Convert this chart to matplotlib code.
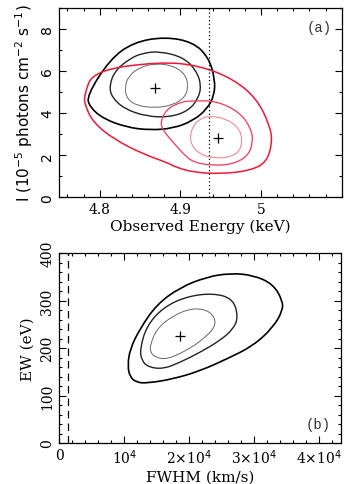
import numpy as np
import matplotlib
matplotlib.use("Agg")
import matplotlib.pyplot as plt
from matplotlib.path import Path
from matplotlib.patches import PathPatch
from matplotlib.ticker import MultipleLocator, FixedLocator, FixedFormatter

# ---------------- data: panel (a) -----------------
# black contours (energy keV, intensity 1e-5 ph/cm2/s)
blk_outer_x = [4.784, 4.788, 4.805, 4.834, 4.862, 4.891, 4.916, 4.933, 4.942, 4.943, 4.935, 4.916, 4.881, 4.842, 4.813]
blk_outer_y = [4.82, 4.27, 3.72, 3.32, 3.19, 3.27, 3.64, 4.19, 4.82, 5.61, 6.64, 7.36, 7.62, 7.36, 6.56]
blk_mid_x = [4.875, 4.904, 4.920, 4.926, 4.922, 4.910, 4.887, 4.858, 4.831, 4.815, 4.812, 4.819, 4.838, 4.854]
blk_mid_y = [6.93, 6.64, 6.01, 5.30, 4.67, 4.11, 3.80, 3.84, 4.19, 4.75, 5.30, 6.01, 6.60, 6.85]
blk_in_x = [4.869, 4.891, 4.906, 4.910, 4.906, 4.891, 4.869, 4.846, 4.834, 4.831, 4.836, 4.850]
blk_in_y = [6.36, 6.25, 5.85, 5.30, 4.75, 4.38, 4.24, 4.35, 4.67, 5.22, 5.77, 6.17]
blk_best = (4.868, 5.17)

# red contours
red_outer_x = [4.7806, 4.792, 4.875, 4.924, 4.966, 4.995, 5.011, 5.014, 5.007, 4.986, 4.949, 4.916, 4.895, 4.883, 4.854, 4.817, 4.792, 4.782]
red_outer_y = [4.82, 6.01, 6.44, 6.25, 5.61, 4.67, 3.40, 2.61, 1.66, 1.26, 1.11, 1.19, 1.42, 1.66, 2.05, 2.77, 3.56, 4.35]
red_mid_x = [4.875, 4.883, 4.900, 4.912, 4.945, 4.974, 4.988, 4.990, 4.984, 4.966, 4.941, 4.916, 4.904, 4.891, 4.879]
red_mid_y = [3.56, 4.19, 4.51, 4.58, 4.58, 4.03, 3.24, 2.61, 1.97, 1.58, 1.50, 1.66, 2.05, 2.61, 3.16]
red_in_x = [4.912, 4.916, 4.924, 4.937, 4.957, 4.972, 4.977, 4.974, 4.962, 4.941, 4.924, 4.914]
red_in_y = [2.92, 3.40, 3.72, 3.87, 3.72, 3.32, 2.77, 2.21, 1.90, 1.85, 2.05, 2.45]
red_best = (4.947, 2.80)

rest_energy = 4.935

# ---------------- data: panel (b) -----------------
b_outer_x = [10520, 10874, 12412, 14980, 18570, 22670, 26250, 29840, 32910, 34360, 34360, 32910, 29840, 25750, 21640, 17530, 13440, 11900, 10870]
b_outer_y = [163, 198, 241, 292, 328, 350, 358, 354, 335, 300, 279, 244, 205, 177, 152, 135, 126, 128, 139]
b_mid_x = [12412, 13440, 16000, 19590, 23690, 26760, 27530, 26760, 24720, 21640, 18570, 16000, 13690, 12670]
b_mid_y = [198, 247, 286, 309, 316, 304, 265, 240, 216, 191, 170, 156, 160, 174]
b_in_x = [13950, 14980, 17530, 20360, 22670, 23950, 23950, 22150, 19590, 16520, 14720, 14060]
b_in_y = [205, 241, 269, 284, 281, 265, 244, 219, 195, 176, 181, 191]
b_best = (18570, 226)
instr_fwhm = 1400

b_xticks = [0, 10000, 20000, 30000, 40000]
b_xticklabels = ["0", r"10$^4$", r"2$\times$10$^4$", r"3$\times$10$^4$", r"4$\times$10$^4$"]
a_xticks = [4.8, 4.9, 5.0]
a_xticklabels = ["4.8", "4.9", "5"]

W, H = 346, 485
fig = plt.figure(figsize=(W / 100, H / 100), dpi=100)


def smooth_loop(ax, xs, ys, color, lw):
    """Closed contour drawn by the library as a quadratic-Bezier path whose
    control points are the read-off vertices."""
    P = np.column_stack([xs, ys]).astype(float)
    n = len(P)
    mids = (P + np.roll(P, -1, axis=0)) / 2.0
    verts = [mids[-1]]
    codes = [Path.MOVETO]
    for i in range(n):
        verts += [P[i], mids[i]]
        codes += [Path.CURVE3, Path.CURVE3]
    path = Path(np.array(verts), codes)
    ax.add_patch(PathPatch(path, fill=False, edgecolor=color, lw=lw))


def style(ax):
    ax.tick_params(which="both", direction="in", top=True, right=True, labelsize=10)
    ax.tick_params(which="major", length=5, width=0.8)
    ax.tick_params(which="minor", length=2.5, width=0.8)
    for s in ax.spines.values():
        s.set_linewidth(0.9)
    for lab in ax.get_yticklabels():
        lab.set_rotation(90)
        lab.set_va("center")

serif = "DejaVu Serif"

# ---- panel (a)
ax1 = fig.add_axes([59.3 / W, 1 - 198.3 / H, 282.4 / W, 189.6 / H])
for xs, ys, c, lw in [(blk_outer_x, blk_outer_y, "#000000", 1.2),
                      (blk_mid_x, blk_mid_y, "#222222", 1.0),
                      (blk_in_x, blk_in_y, "#666666", 0.7),
                      (red_outer_x, red_outer_y, "#ee1838", 1.1),
                      (red_mid_x, red_mid_y, "#ee3a58", 0.9),
                      (red_in_x, red_in_y, "#f27c88", 0.7)]:
    smooth_loop(ax1, xs, ys, c, lw)
ax1.plot(*blk_best, marker="+", color="k", ms=7, mew=0.9)
ax1.plot(*red_best, marker="+", color="k", ms=7, mew=0.9)
ax1.axvline(rest_energy, color="k", ls=(0, (1, 2)), lw=0.9)
ax1.set_xlim(4.75, 5.1)
ax1.set_ylim(0, 9)
ax1.xaxis.set_major_locator(FixedLocator(a_xticks))
ax1.xaxis.set_major_formatter(FixedFormatter(a_xticklabels))
ax1.xaxis.set_minor_locator(MultipleLocator(0.02))
ax1.yaxis.set_major_locator(MultipleLocator(2))
ax1.yaxis.set_minor_locator(MultipleLocator(1))
style(ax1)
for lab in ax1.get_xticklabels():
    lab.set_family(serif)
ax1.set_xlabel("Observed Energy (keV)", family=serif, fontsize=11, labelpad=2)
ax1.set_ylabel(r"I (10$^{-5}$ photons cm$^{-2}$ s$^{-1}$)", fontsize=11, labelpad=4)
ax1.text(0.92, 0.9, "(a)", transform=ax1.transAxes, ha="center", va="center",
         family="Liberation Mono", fontsize=10, color="#333333")

# ---- panel (b)
ax2 = fig.add_axes([59.3 / W, 1 - 444 / H, 281.4 / W, 189.7 / H])
for xs, ys, c, lw in [(b_outer_x, b_outer_y, "#000000", 1.2),
                      (b_mid_x, b_mid_y, "#222222", 1.0),
                      (b_in_x, b_in_y, "#666666", 0.7)]:
    smooth_loop(ax2, xs, ys, c, lw)
ax2.plot(*b_best, marker="+", color="k", ms=7, mew=0.9)
ax2.axvline(instr_fwhm, color="k", ls=(0, (6, 4)), lw=0.9)
ax2.set_xlim(0, 43300)
ax2.set_ylim(0, 400)
ax2.xaxis.set_major_locator(FixedLocator(b_xticks))
ax2.xaxis.set_major_formatter(FixedFormatter(b_xticklabels))
ax2.xaxis.set_minor_locator(MultipleLocator(2000))
ax2.yaxis.set_major_locator(MultipleLocator(100))
ax2.yaxis.set_minor_locator(MultipleLocator(20))
style(ax2)
for lab in ax2.get_xticklabels() + ax2.get_yticklabels():
    lab.set_family(serif)
ax2.set_xlabel("FWHM (km/s)", family=serif, fontsize=11, labelpad=2)
ax2.set_ylabel("EW (eV)", family=serif, fontsize=11, labelpad=4)
ax2.text(0.92, 0.1, "(b)", transform=ax2.transAxes, ha="center", va="center",
         family="Liberation Mono", fontsize=10, color="#333333")

fig.savefig("out.png", dpi=100)
